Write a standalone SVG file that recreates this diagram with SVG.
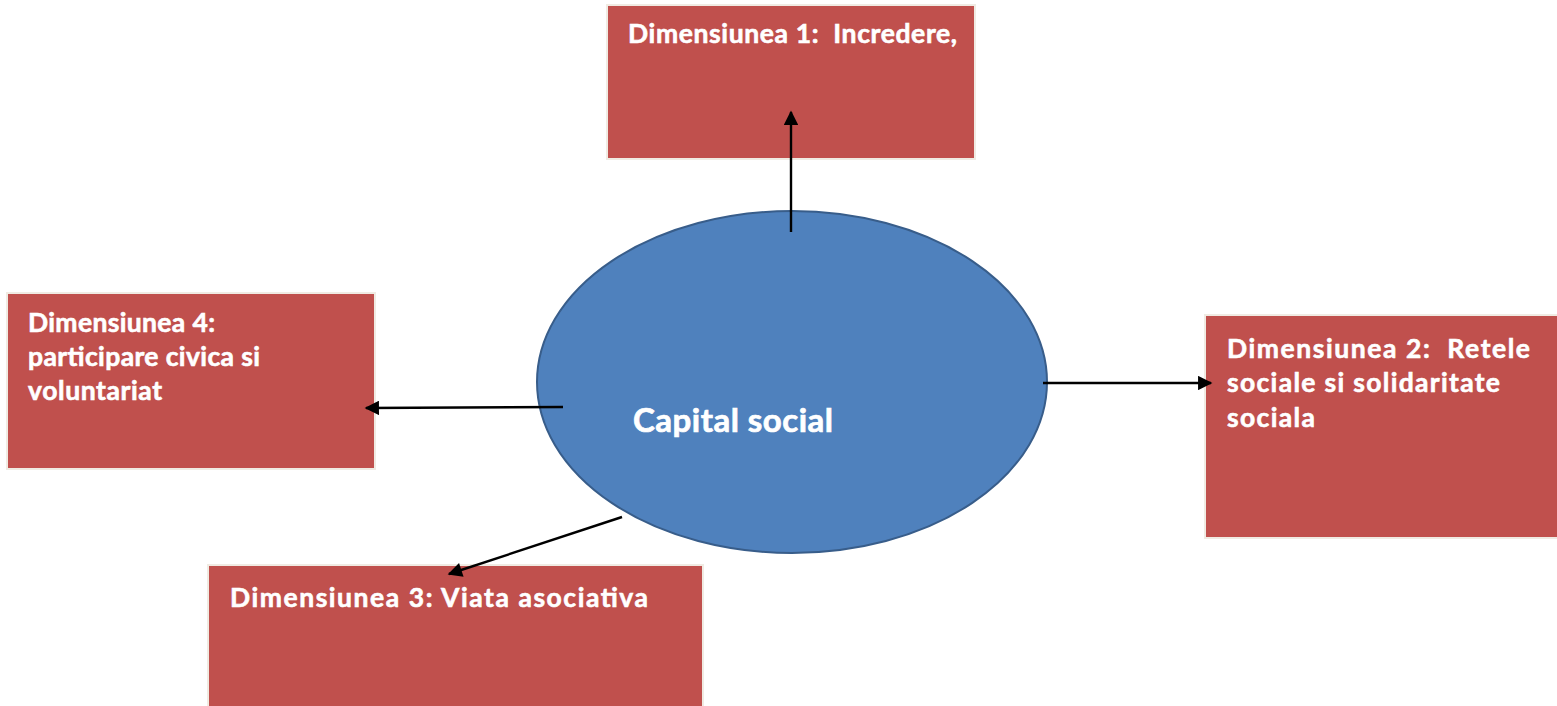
<svg xmlns="http://www.w3.org/2000/svg" width="1557" height="706" viewBox="0 0 1557 706">
<style>
.box{fill:#c0504d;stroke:#f0ebe3;stroke-width:2}
.t{font-family:Lato,"Liberation Sans",sans-serif;font-weight:bold;font-size:26.5px;fill:#ffffff;stroke:#ffffff;stroke-width:0.6}
.c{stroke:#000;stroke-width:2.4;fill:none;marker-end:url(#ah)}
</style>
<defs>
<marker id="ah" viewBox="0 0 10 10" refX="9" refY="5" markerWidth="7" markerHeight="6" markerUnits="strokeWidth" orient="auto">
<path d="M0,0 L10,5 L0,10 z" fill="#000"/>
</marker>
</defs>
<rect width="1557" height="706" fill="#fff"/>
<g id="n1">
<rect class="box" x="607" y="5" width="368" height="154"/>
<text class="t" x="628" y="43" xml:space="preserve" textLength="329" lengthAdjust="spacing">Dimensiunea 1:  Incredere,</text>
</g>
<g id="n4">
<rect class="box" x="7" y="293" width="368" height="176"/>
<text class="t" x="28" y="332" textLength="187" lengthAdjust="spacing">Dimensiunea 4:</text>
<text class="t" x="28" y="366" textLength="232" lengthAdjust="spacing">participare civica si</text>
<text class="t" x="28" y="400" textLength="134" lengthAdjust="spacing">voluntariat</text>
</g>
<g id="n2">
<rect class="box" x="1205" y="315" width="355" height="223"/>
<text class="t" x="1227" y="358" xml:space="preserve" textLength="303" lengthAdjust="spacing">Dimensiunea 2:  Retele</text>
<text class="t" x="1227" y="392" textLength="273" lengthAdjust="spacing">sociale si solidaritate</text>
<text class="t" x="1227" y="427" textLength="88" lengthAdjust="spacing">sociala</text>
</g>
<g id="n3">
<rect class="box" x="208" y="565" width="495" height="145"/>
<text class="t" x="230" y="607" textLength="418" lengthAdjust="spacing">Dimensiunea 3: Viata asociativa</text>
</g>
<g id="center">
<ellipse cx="792" cy="382" rx="255" ry="171" fill="#4f81bd" stroke="#385d8a" stroke-width="2"/>
<text x="633" y="432" font-family="Lato,'Liberation Sans',sans-serif" font-weight="bold" font-size="33" fill="#fff" stroke="#fff" stroke-width="0.7" textLength="200" lengthAdjust="spacing">Capital social</text>
</g>
<g id="connectors">
<line class="c" x1="791" y1="232" x2="791" y2="112"/>
<line class="c" x1="1043" y1="383" x2="1211" y2="383"/>
<line class="c" x1="563" y1="407" x2="366" y2="408"/>
<line class="c" x1="622" y1="517" x2="449" y2="574"/>
</g>
</svg>
